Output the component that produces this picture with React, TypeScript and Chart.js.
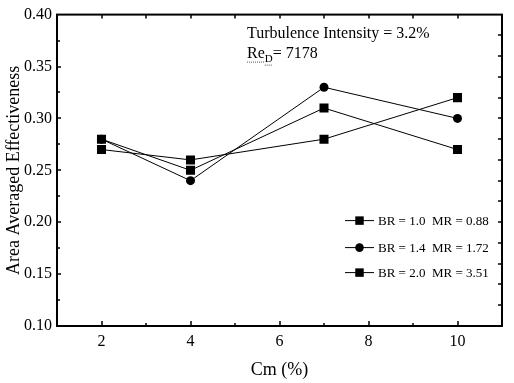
import React, { useEffect, useRef } from 'react';
import { Chart, registerables } from 'chart.js';

Chart.register(...registerables);

// ---- data ----
const cmValues = [2, 4, 7, 10];
const effBR10 = [0.27, 0.26, 0.28, 0.32];
const effBR14 = [0.28, 0.24, 0.33, 0.30];
const effBR20 = [0.28, 0.25, 0.31, 0.27];
const seriesLabels = ['BR = 1.0  MR = 0.88', 'BR = 1.4  MR = 1.72', 'BR = 2.0  MR = 3.51'];
const seriesMarkers = ['rect', 'circle', 'rect'];
const xMajorTicks = [2, 4, 6, 8, 10];
const xMinorTicks = [3, 5, 7, 9];
const yMajorTicks = [0.15, 0.2, 0.25, 0.3, 0.35];
const yMinorTicks = [0.125, 0.175, 0.225, 0.275, 0.325, 0.375];
const yRightTicks = [0.12, 0.14, 0.16, 0.18, 0.2, 0.22, 0.24, 0.26, 0.28, 0.3, 0.32, 0.34, 0.36, 0.38];
const xTopTicks = [2, 3, 4, 5, 6, 7, 8, 9, 10];
const noteLine1 = 'Turbulence Intensity = 3.2%';
const noteRe = 'Re';
const noteSub = 'D';
const noteRest = '= 7178';
const xTitle = 'Cm (%)';
const yTitle = 'Area Averaged Effectiveness';

const SERIF = '"Liberation Serif", "Times New Roman", serif';

const framePlugin = {
  id: 'frameTicks',
  afterDatasetsDraw(chart: any) {
    const ctx = chart.ctx;
    const ca = chart.chartArea;
    const xs = chart.scales.x;
    const ys = chart.scales.y;
    ctx.save();
    ctx.strokeStyle = '#000';
    // frame
    ctx.lineWidth = 2;
    ctx.strokeRect(ca.left, ca.top, ca.right - ca.left, ca.bottom - ca.top);
    ctx.lineWidth = 1.5;
    ctx.beginPath();
    xMajorTicks.forEach((v) => {
      const px = Math.round(xs.getPixelForValue(v));
      ctx.moveTo(px, ca.bottom);
      ctx.lineTo(px, ca.bottom - 5);
    });
    xMinorTicks.forEach((v) => {
      const px = Math.round(xs.getPixelForValue(v));
      ctx.moveTo(px, ca.bottom);
      ctx.lineTo(px, ca.bottom - 3);
    });
    xTopTicks.forEach((v) => {
      const px = Math.round(xs.getPixelForValue(v));
      ctx.moveTo(px, ca.top);
      ctx.lineTo(px, ca.top + 4);
    });
    yMajorTicks.forEach((v) => {
      const py = Math.round(ys.getPixelForValue(v));
      ctx.moveTo(ca.left, py);
      ctx.lineTo(ca.left + 4, py);
    });
    yMinorTicks.forEach((v) => {
      const py = Math.round(ys.getPixelForValue(v));
      ctx.moveTo(ca.left, py);
      ctx.lineTo(ca.left + 3, py);
    });
    yRightTicks.forEach((v) => {
      const py = Math.round(ys.getPixelForValue(v));
      ctx.moveTo(ca.right, py);
      ctx.lineTo(ca.right - 4, py);
    });
    ctx.stroke();

    // annotation text
    ctx.fillStyle = '#000';
    ctx.textBaseline = 'alphabetic';
    ctx.textAlign = 'left';
    const tx = ca.left + 190;
    ctx.font = `16px ${SERIF}`;
    ctx.fillText(noteLine1, tx, ca.top + 23);
    ctx.fillText(noteRe, tx, ca.top + 43);
    const reW = ctx.measureText(noteRe).width;
    ctx.font = `11px ${SERIF}`;
    ctx.fillText(noteSub, tx + reW, ca.top + 47);
    const subW = ctx.measureText(noteSub).width;
    ctx.font = `16px ${SERIF}`;
    ctx.fillText(noteRest, tx + reW + subW, ca.top + 43);
    // dotted underline
    ctx.strokeStyle = '#555';
    ctx.lineWidth = 1;
    ctx.setLineDash([1, 1]);
    ctx.beginPath();
    ctx.moveTo(tx, ca.top + 47.5);
    ctx.lineTo(tx + reW, ca.top + 47.5);
    ctx.moveTo(tx + reW, ca.top + 50.5);
    ctx.lineTo(tx + reW + subW, ca.top + 50.5);
    ctx.stroke();
    ctx.setLineDash([]);

    // legend
    const rows = [ca.top + 206, ca.top + 233, ca.top + 258];
    chart.data.datasets.forEach((ds: any, i: number) => {
      const y = rows[i];
      const x0 = ca.right - 157;
      const x1 = ca.right - 128;
      ctx.strokeStyle = '#000';
      ctx.lineWidth = 1;
      ctx.beginPath();
      ctx.moveTo(x0, y);
      ctx.lineTo(x1, y);
      ctx.stroke();
      ctx.fillStyle = '#000';
      const style = ds.pointStyle;
      const r = style === 'rect' ? 6 : 4.3;
      // draw marker through Chart.js helper
      (Chart as any).helpers?.drawPoint
        ? (Chart as any).helpers.drawPoint(ctx, { pointStyle: style, radius: r, borderWidth: 0 }, (x0 + x1) / 2, y)
        : null;
      if (!(Chart as any).helpers?.drawPoint) {
        ctx.beginPath();
        if (style === 'rect') {
          const s = r * Math.SQRT1_2;
          ctx.rect((x0 + x1) / 2 - s, y - s, 2 * s, 2 * s);
        } else {
          ctx.arc((x0 + x1) / 2, y, r, 0, Math.PI * 2);
        }
        ctx.fill();
      }
      ctx.font = `13px ${SERIF}`;
      ctx.textBaseline = 'middle';
      ctx.fillText(ds.label, ca.right - 124, y + 1);
    });
    ctx.restore();
  },
};

function makeDataset(label: string, values: number[], marker: string) {
  return {
    label,
    data: cmValues.map((x, i) => ({ x, y: values[i] })),
    borderColor: '#000',
    backgroundColor: '#000',
    borderWidth: 1,
    pointStyle: marker,
    pointRadius: marker === 'rect' ? 6.4 : 4.5,
    pointBorderWidth: 0,
    pointBackgroundColor: '#000',
    tension: 0,
  };
}

export default function App() {
  const ref = useRef<HTMLCanvasElement>(null);
  useEffect(() => {
    document.body.style.margin = '0';
    const chart = new Chart(ref.current!, {
      type: 'line',
      data: {
        datasets: [
          makeDataset(seriesLabels[0], effBR10, seriesMarkers[0]),
          makeDataset(seriesLabels[1], effBR14, seriesMarkers[1]),
          makeDataset(seriesLabels[2], effBR20, seriesMarkers[2]),
        ],
      },
      options: {
        responsive: false,
        animation: false,
        layout: { padding: { top: 14, right: 12, left: 0, bottom: 0 } },
        plugins: { legend: { display: false }, tooltip: { enabled: false } },
        scales: {
          x: {
            type: 'linear',
            min: 1,
            max: 11,
            grid: { display: false, drawTicks: false },
            border: { display: false },
            ticks: {
              stepSize: 1,
              padding: 6,
              color: '#000',
              font: { family: SERIF, size: 16 },
              callback: (v: any) => (xMajorTicks.includes(Number(v)) ? String(v) : ''),
            },
            title: {
              display: true,
              text: xTitle,
              color: '#000',
              font: { family: SERIF, size: 18 },
              padding: { top: 0, bottom: 2 },
            },
            afterFit: (s: any) => {
              s.height = 57;
            },
          },
          y: {
            min: 0.1,
            max: 0.4,
            grid: { display: false, drawTicks: false },
            border: { display: false },
            ticks: {
              stepSize: 0.05,
              padding: 5,
              color: '#000',
              font: { family: SERIF, size: 16 },
              callback: (v: any) => Number(v).toFixed(2),
            },
            title: {
              display: true,
              text: yTitle,
              color: '#000',
              font: { family: SERIF, size: 18 },
              padding: { top: 3, bottom: 0 },
            },
            afterFit: (s: any) => {
              s.width = 57;
            },
          },
        },
      },
      plugins: [framePlugin],
    } as any);
    return () => chart.destroy();
  }, []);
  return (
    <div style={{ width: 514, height: 383, background: '#fff' }}>
      <canvas ref={ref} width={514} height={383} style={{ width: 514, height: 383, display: 'block' }} />
    </div>
  );
}
